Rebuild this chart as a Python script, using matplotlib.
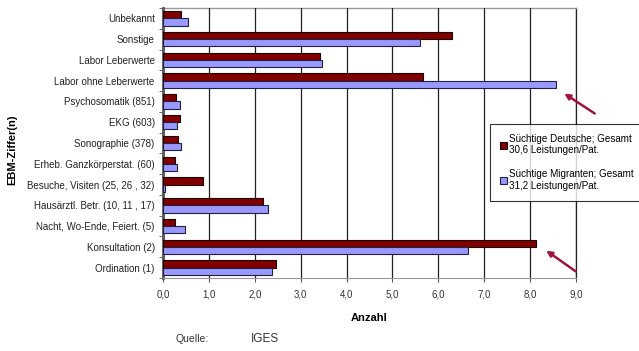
import numpy as np
import matplotlib.pyplot as plt
from matplotlib.patches import FancyArrowPatch

plt.rcParams['font.family'] = ['Liberation Sans', 'DejaVu Sans']

# categories from bottom to top
categories = ["Ordination (1)", "Konsultation (2)", "Nacht, Wo-Ende, Feiert. (5)",
              "Hausärztl. Betr. (10, 11 , 17)", "Besuche, Visiten (25, 26 , 32)",
              "Erheb. Ganzkörperstat. (60)", "Sonographie (378)", "EKG (603)",
              "Psychosomatik (851)", "Labor ohne Leberwerte", "Labor Leberwerte",
              "Sonstige", "Unbekannt"]
deutsche = [2.47, 8.12, 0.26, 2.17, 0.87, 0.26, 0.33, 0.37, 0.28, 5.67, 3.42, 6.3, 0.4]
migranten = [2.38, 6.65, 0.47, 2.28, 0.04, 0.30, 0.39, 0.30, 0.37, 8.56, 3.46, 5.6, 0.55]
xticks = np.arange(0, 10, 1.0)
xticklabels = ["0,0", "1,0", "2,0", "3,0", "4,0", "5,0", "6,0", "7,0", "8,0", "9,0"]

fig = plt.figure(figsize=(6.39, 3.51), dpi=100)
ax = fig.add_axes([163/639, 1-278/351, (576-163)/639, (278-8)/351])

y = np.arange(len(categories))
h = 0.35
ax.barh(y + h/2, deutsche, height=h, color='#800000', edgecolor='#1a0000', linewidth=0.8,
        label="Süchtige Deutsche; Gesamt\n30,6 Leistungen/Pat.", zorder=3)
ax.barh(y - h/2, migranten, height=h, color='#9999FF', edgecolor='#202040', linewidth=0.8,
        label="Süchtige Migranten; Gesamt\n31,2 Leistungen/Pat.", zorder=3)

ax.set_xlim(0, 9)
ax.set_ylim(-0.5, len(categories) - 0.5)
ax.set_xticks(xticks)
ax.set_xticklabels(xticklabels, fontsize=7, color='#333333')
ax.set_yticks(y)
ax.set_yticklabels(categories, fontsize=7, color='#222222')
ax.set_yticks(np.arange(-0.5, len(categories), 1), minor=True)
ax.tick_params(axis='y', which='major', length=0, pad=6)
ax.tick_params(axis='y', which='minor', length=3, color='#555555')
ax.tick_params(axis='x', length=3, color='#555555', pad=5)
ax.grid(axis='x', color='#222222', linewidth=0.9, zorder=0)
ax.axvline(9, color='#222222', linewidth=0.9, zorder=0, clip_on=False)
for side in ['top', 'right']:
    ax.spines[side].set_visible(False)
ax.spines['left'].set_color('#555555')
ax.spines['left'].set_linewidth(2)
ax.spines['bottom'].set_color('#999999')
ax.plot([0, 9], [len(categories) - 0.5] * 2, color='#999999', linewidth=1, zorder=1, clip_on=False)

ax.set_xlabel("Anzahl", fontsize=8, fontweight='bold', labelpad=10)
fig.text(12/639, 1-150/351, "EBM-Ziffer(n)", rotation=90, fontsize=8, fontweight='bold',
         ha='center', va='center')

leg = fig.legend(loc='upper left', bbox_to_anchor=(490/639, 1-124/351), fontsize=7.1,
                 frameon=True, fancybox=False, edgecolor='black', handlelength=0.7,
                 handleheight=0.7, handletextpad=0.25, labelspacing=1.4, borderpad=1.0,
                 borderaxespad=0.0)
leg.get_frame().set_linewidth(0.8)

# arrows pointing at the two largest bars
for (x0, y0), (x1, y1) in [((597, 115), (562, 92)), ((578, 273), (544, 249))]:
    fig.patches.append(FancyArrowPatch((x0/639, 1-y0/351), (x1/639, 1-y1/351),
                                       transform=fig.transFigure, arrowstyle='-|>',
                                       mutation_scale=8, color='#a0143c', linewidth=1.8))

fig.text(192/639, 1-339/351, "Quelle:", fontsize=7.5, ha='center', va='center', color='#333333')
fig.text(265/639, 1-339/351, "IGES", fontsize=8.5, ha='center', va='center', color='#333333')

fig.savefig("out.png", dpi=100)
